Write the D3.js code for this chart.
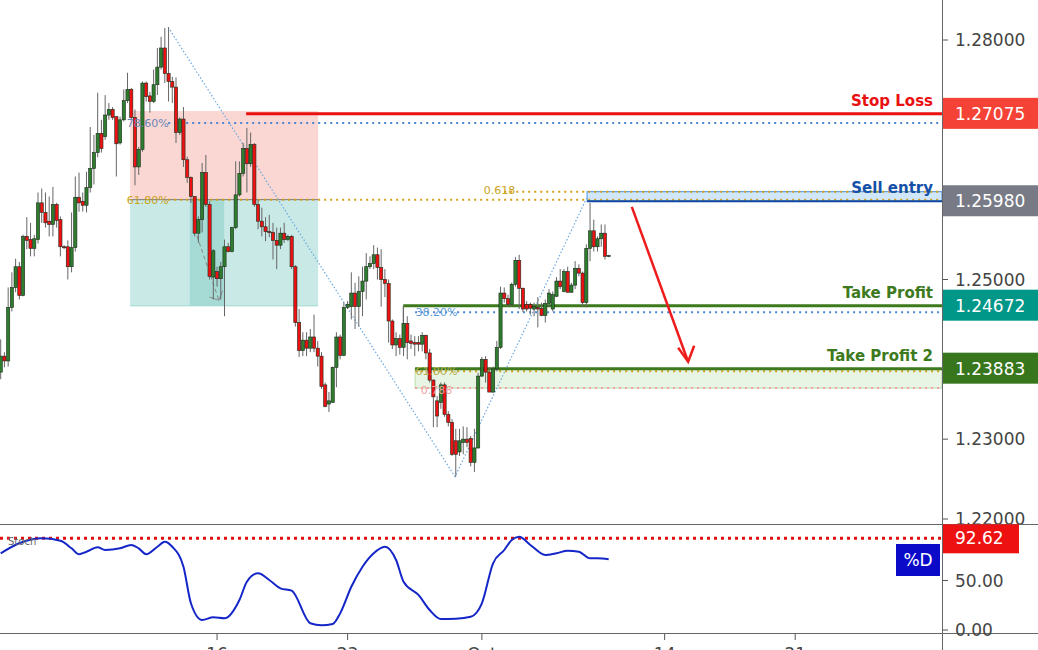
<!DOCTYPE html>
<html>
<head>
<meta charset="utf-8">
<script src="https://cdn.jsdelivr.net/npm/d3@7"></script>
<style>
  body { margin: 0; background: #fff; }
  svg { display: block; font-family: "DejaVu Sans", sans-serif; }
</style>
</head>
<body>
<div id="main"></div>
<script>
// candles: [open, high, low, close]
const candles = [
  [1.2384,1.2425,1.2375,1.2404],[1.2404,1.2409,1.2390,1.2398],[1.2398,1.2490,1.2391,1.2465],[1.2465,1.2509,1.2460,1.2490],
  [1.2490,1.2526,1.2484,1.2516],[1.2516,1.2522,1.2475,1.2480],[1.2480,1.2556,1.2479,1.2554],[1.2554,1.2578,1.2538,1.2549],
  [1.2550,1.2571,1.2529,1.2539],[1.2539,1.2556,1.2529,1.2551],[1.2550,1.2609,1.2545,1.2596],[1.2596,1.2614,1.2571,1.2584],
  [1.2584,1.2609,1.2565,1.2571],[1.2573,1.2604,1.2554,1.2569],[1.2569,1.2616,1.2554,1.2594],[1.2594,1.2596,1.2565,1.2574],
  [1.2575,1.2579,1.2529,1.2541],[1.2541,1.2543,1.2538,1.2540],[1.2541,1.2549,1.2500,1.2516],[1.2516,1.2584,1.2509,1.2540],
  [1.2540,1.2629,1.2535,1.2603],[1.2603,1.2634,1.2585,1.2596],[1.2598,1.2609,1.2585,1.2593],[1.2593,1.2635,1.2584,1.2615],
  [1.2615,1.2691,1.2609,1.2639],[1.2639,1.2681,1.2619,1.2659],[1.2659,1.2734,1.2653,1.2683],[1.2683,1.2700,1.2659,1.2664],
  [1.2679,1.2731,1.2675,1.2706],[1.2706,1.2721,1.2700,1.2713],[1.2713,1.2716,1.2700,1.2703],[1.2704,1.2704,1.2629,1.2670],
  [1.2671,1.2704,1.2669,1.2700],[1.2700,1.2738,1.2698,1.2724],[1.2724,1.2759,1.2721,1.2738],[1.2738,1.2740,1.2700,1.2703],
  [1.2703,1.2713,1.2618,1.2641],[1.2641,1.2666,1.2631,1.2663],[1.2663,1.2748,1.2660,1.2746],[1.2746,1.2748,1.2723,1.2729],
  [1.2730,1.2735,1.2709,1.2723],[1.2723,1.2763,1.2721,1.2744],[1.2744,1.2790,1.2731,1.2766],[1.2766,1.2804,1.2763,1.2790],
  [1.2790,1.2815,1.2746,1.2758],[1.2758,1.2816,1.2723,1.2748],[1.2748,1.2754,1.2721,1.2741],[1.2741,1.2753,1.2671,1.2684],
  [1.2684,1.2703,1.2681,1.2701],[1.2701,1.2716,1.2641,1.2650],[1.2650,1.2654,1.2621,1.2628],[1.2628,1.2629,1.2596,1.2604],
  [1.2604,1.2604,1.2554,1.2558],[1.2558,1.2579,1.2546,1.2575],[1.2575,1.2646,1.2559,1.2634],[1.2634,1.2656,1.2591,1.2594],
  [1.2594,1.2598,1.2500,1.2504],[1.2503,1.2538,1.2475,1.2536],[1.2510,1.2516,1.2491,1.2501],[1.2501,1.2522,1.2475,1.2516],
  [1.2516,1.2550,1.2454,1.2541],[1.2541,1.2546,1.2534,1.2535],[1.2535,1.2566,1.2534,1.2565],[1.2565,1.2648,1.2563,1.2606],
  [1.2606,1.2648,1.2604,1.2633],[1.2633,1.2671,1.2629,1.2664],[1.2664,1.2690,1.2609,1.2645],[1.2645,1.2684,1.2641,1.2669],
  [1.2669,1.2671,1.2591,1.2594],[1.2594,1.2600,1.2563,1.2573],[1.2573,1.2590,1.2554,1.2566],[1.2566,1.2578,1.2548,1.2560],
  [1.2560,1.2581,1.2553,1.2559],[1.2559,1.2571,1.2525,1.2549],[1.2549,1.2565,1.2513,1.2543],[1.2543,1.2565,1.2538,1.2558],
  [1.2558,1.2571,1.2546,1.2550],[1.2550,1.2556,1.2548,1.2554],[1.2554,1.2556,1.2513,1.2516],[1.2516,1.2518,1.2441,1.2446],
  [1.2446,1.2463,1.2403,1.2411],[1.2411,1.2434,1.2404,1.2424],[1.2424,1.2434,1.2404,1.2414],[1.2414,1.2438,1.2409,1.2428],
  [1.2428,1.2456,1.2409,1.2414],[1.2414,1.2423,1.2391,1.2404],[1.2404,1.2409,1.2363,1.2366],[1.2368,1.2371,1.2340,1.2341],
  [1.2344,1.2359,1.2334,1.2348],[1.2346,1.2391,1.2346,1.2390],[1.2390,1.2434,1.2365,1.2428],[1.2428,1.2431,1.2400,1.2405],
  [1.2405,1.2471,1.2404,1.2465],[1.2465,1.2473,1.2463,1.2469],[1.2466,1.2509,1.2450,1.2483],[1.2483,1.2496,1.2438,1.2466],
  [1.2466,1.2504,1.2441,1.2485],[1.2485,1.2516,1.2454,1.2498],[1.2498,1.2533,1.2475,1.2516],[1.2516,1.2529,1.2513,1.2520],
  [1.2520,1.2543,1.2513,1.2531],[1.2531,1.2540,1.2500,1.2515],[1.2515,1.2538,1.2466,1.2500],[1.2500,1.2513,1.2478,1.2495],
  [1.2495,1.2500,1.2421,1.2448],[1.2448,1.2450,1.2413,1.2418],[1.2418,1.2434,1.2404,1.2426],[1.2426,1.2431,1.2406,1.2415],
  [1.2415,1.2466,1.2404,1.2445],[1.2445,1.2454,1.2400,1.2421],[1.2423,1.2431,1.2413,1.2420],[1.2421,1.2429,1.2404,1.2419],
  [1.2421,1.2429,1.2410,1.2419],[1.2419,1.2434,1.2410,1.2430],[1.2430,1.2431,1.2400,1.2408],[1.2408,1.2413,1.2371,1.2374],
  [1.2374,1.2375,1.2315,1.2353],[1.2348,1.2354,1.2315,1.2329],[1.2346,1.2371,1.2338,1.2368],[1.2368,1.2371,1.2328,1.2331],
  [1.2331,1.2335,1.2316,1.2321],[1.2321,1.2325,1.2279,1.2281],[1.2298,1.2313,1.2253,1.2281],[1.2284,1.2313,1.2279,1.2298],
  [1.2296,1.2316,1.2281,1.2300],[1.2300,1.2315,1.2290,1.2296],[1.2301,1.2304,1.2266,1.2271],[1.2271,1.2313,1.2259,1.2289],
  [1.2289,1.2383,1.2288,1.2379],[1.2379,1.2403,1.2378,1.2400],[1.2400,1.2404,1.2371,1.2384],[1.2384,1.2390,1.2359,1.2359],
  [1.2359,1.2391,1.2358,1.2388],[1.2388,1.2423,1.2385,1.2415],[1.2415,1.2491,1.2413,1.2483],[1.2483,1.2490,1.2471,1.2476],
  [1.2476,1.2481,1.2466,1.2469],[1.2469,1.2496,1.2466,1.2494],[1.2494,1.2528,1.2491,1.2524],[1.2524,1.2531,1.2463,1.2489],
  [1.2489,1.2490,1.2459,1.2463],[1.2469,1.2473,1.2460,1.2463],[1.2469,1.2471,1.2456,1.2464],[1.2463,1.2471,1.2454,1.2466],
  [1.2465,1.2478,1.2440,1.2463],[1.2464,1.2471,1.2454,1.2455],[1.2455,1.2475,1.2446,1.2470],[1.2470,1.2488,1.2466,1.2483],
  [1.2463,1.2485,1.2460,1.2481],[1.2479,1.2503,1.2478,1.2498],[1.2498,1.2513,1.2488,1.2491],[1.2485,1.2513,1.2484,1.2510],
  [1.2510,1.2516,1.2484,1.2484],[1.2484,1.2496,1.2484,1.2493],[1.2493,1.2523,1.2488,1.2514],[1.2514,1.2519,1.2504,1.2508],
  [1.2508,1.2510,1.2466,1.2471],[1.2471,1.2544,1.2465,1.2539],[1.2539,1.2596,1.2523,1.2561],[1.2561,1.2575,1.2535,1.2541],
  [1.2541,1.2554,1.2535,1.2551],[1.2551,1.2569,1.2541,1.2558],[1.2558,1.2569,1.2525,1.2529],[1.2529,1.2531,1.2528,1.2530]
];

const stochIdx = [0,5,11,16,19,21,23,26,28,32,35,37,39,42,44,46,49,51,54,57,60,64,66,69,72,75,78,83,86,89,91,94,97,100,103,106,108,112,115,118,122,126,129,132,135,137,139,142,146,149,152,155,158,160,163];
const stochVal = [77.5,87.6,92.6,90.2,82.5,76.5,79.1,83.5,80.8,82.5,85.9,82.5,76.5,84.1,89.2,84.1,63.9,27,10.1,12.8,11.8,30.3,48.8,57.3,50.5,42.1,39.7,6.8,4.7,6.1,16.8,43.7,63.9,77.5,84.1,70.7,48.8,35.4,20.2,11.1,11.4,13.4,27,67.4,80.8,90.9,94.2,85.9,75.8,77.5,80.1,79.1,72.4,72.4,71.4];

const priceTicks = [1.22, 1.23, 1.24, 1.25, 1.26, 1.27, 1.28];
const stochTicks = [0, 50];
const stochLevel = 92.62;
const dateTickIdx = [58, 93, 129, 178, 213];
const dateTickLabels = ["16", "23", "Oct", "14", "21"];

const stopLoss = 1.27075, sellEntry = 1.25980, tp1 = 1.24672, tp2 = 1.23883;
// fib / zone levels
const fib786 = 1.2696, fib618 = 1.2600, zoneBottom = 1.2467;
const fib618b = 1.2610, fib382 = 1.2463, fib618c = 1.2385, fib786c = 1.2364;
const swingIdx = [44.9, 121.8, 157.2];
const swingPrice = [1.2816, 1.2253, 1.2603];

const WIDTH = 1038, HEIGHT = 650, AXIS_X = 942;
const svg = d3.select("#main").append("svg").attr("width", WIDTH).attr("height", HEIGHT);

const x = d3.scaleLinear().domain([0, 163]).range([0.7, 608.7]);
const y = d3.scaleLinear().domain([1.22, 1.28]).range([519, 40]);
const ys = d3.scaleLinear().domain([0, 100]).range([630, 531]);

svg.append("clipPath").attr("id", "pc").append("rect").attr("width", AXIS_X).attr("height", 524);
svg.append("clipPath").attr("id", "ac").append("rect").attr("x", AXIS_X).attr("width", 100).attr("height", 524);
const g = svg.append("g").attr("clip-path", "url(#pc)");

// risk / reward boxes
g.append("rect").attr("x", x(34.7)).attr("width", x(85.1) - x(34.7))
  .attr("y", y(1.2711)).attr("height", y(fib618) - y(1.2711)).attr("fill", "#f8c9c4").attr("opacity", 0.75);
g.append("rect").attr("x", x(34.7)).attr("width", x(85.1) - x(34.7))
  .attr("y", y(fib618)).attr("height", y(zoneBottom) - y(fib618)).attr("fill", "#b2e0dc").attr("opacity", 0.7);
g.append("rect").attr("x", x(50.7)).attr("width", x(59.9) - x(50.7))
  .attr("y", y(fib618)).attr("height", y(zoneBottom) - y(fib618)).attr("fill", "#8fd0c8").attr("opacity", 0.6);
g.append("line").attr("x1", x(34.7)).attr("x2", x(85.1)).attr("y1", y(zoneBottom)).attr("y2", y(zoneBottom))
  .attr("stroke", "#9fd8d0");
g.append("line").attr("x1", x(34.7)).attr("x2", x(85.1)).attr("y1", y(fib618)).attr("y2", y(fib618))
  .attr("stroke", "#777");

// tp2 zone
g.append("rect").attr("x", x(111.1)).attr("width", AXIS_X - x(111.1))
  .attr("y", y(tp2)).attr("height", y(fib786c) - y(tp2)).attr("fill", "#e9f5e4").attr("stroke", "#b8dcae");

// sell entry box
g.append("rect").attr("x", x(157.2)).attr("width", AXIS_X - x(157.2))
  .attr("y", y(fib618b)).attr("height", y(sellEntry) - y(fib618b)).attr("fill", "#cfe6fb").attr("stroke", "#4a90e2");

// dotted fib lines
const dotted = (i0, p, color) => g.append("line").attr("x1", x(i0)).attr("x2", AXIS_X)
  .attr("y1", y(p)).attr("y2", y(p)).attr("stroke", color).attr("stroke-width", 2).attr("stroke-dasharray", "2,4");
dotted(44.9, fib786, "#4a86d4");
dotted(44.9, fib618, "#d4a017");
dotted(135, fib618b, "#d4a017");
dotted(111.1, fib382 - 0.0004, "#4a86d4");
dotted(111.1, fib618c, "#d4a017");
dotted(111.1, fib786c, "#f2a0a0");

// swing diagonals
g.append("path").attr("d", d3.line()(swingIdx.map((v, i) => [x(v), y(swingPrice[i])])))
  .attr("fill", "none").attr("stroke", "#6aa8e0").attr("stroke-width", 1.2).attr("stroke-dasharray", "1.5,2");

// small dashed arrow in the zone
g.append("path").attr("d", d3.line()([[x(52), y(1.2563)], [x(58.5), y(1.2474)]]))
  .attr("stroke", "#888").attr("stroke-dasharray", "4,3").attr("fill", "none");
g.append("path").attr("d", d3.line()([[x(56), y(1.2478)], [x(58.5), y(1.2474)], [x(59.5), y(1.2486)]]))
  .attr("stroke", "#888").attr("fill", "none");

// level lines
g.append("line").attr("x1", x(65.8)).attr("x2", AXIS_X).attr("y1", y(stopLoss)).attr("y2", y(stopLoss))
  .attr("stroke", "#e81010").attr("stroke-width", 3);
g.append("line").attr("x1", x(157.2)).attr("x2", AXIS_X).attr("y1", y(sellEntry)).attr("y2", y(sellEntry))
  .attr("stroke", "#0d47a1").attr("stroke-width", 2);
g.append("line").attr("x1", x(107.9)).attr("x2", AXIS_X).attr("y1", y(tp1)).attr("y2", y(tp1))
  .attr("stroke", "#3d7a1e").attr("stroke-width", 3);
g.append("line").attr("x1", x(111.1)).attr("x2", AXIS_X).attr("y1", y(tp2)).attr("y2", y(tp2))
  .attr("stroke", "#3d7a1e").attr("stroke-width", 3);
g.append("line").attr("x1", x(107.9)).attr("x2", x(107.9)).attr("y1", y(tp1)).attr("y2", y(1.2433))
  .attr("stroke", "#888");

// candles
const c = g.append("g").selectAll("g").data(candles).join("g");
c.append("line").attr("x1", (d, i) => x(i)).attr("x2", (d, i) => x(i))
  .attr("y1", d => y(d[1])).attr("y2", d => y(d[2])).attr("stroke", "#666").attr("stroke-width", 1);
c.append("rect").attr("x", (d, i) => x(i) - 1.6).attr("width", 3.2)
  .attr("y", d => y(Math.max(d[0], d[3])))
  .attr("height", d => Math.max(1, Math.abs(y(d[0]) - y(d[3]))))
  .attr("fill", d => d[3] >= d[0] ? "#2e7d2e" : "#ee1111")
  .attr("stroke", "#1c2a1c").attr("stroke-width", 0.6);

// fib labels
const lab = (i, p, t, color) => g.append("text").attr("x", x(i)).attr("y", y(p) + 4)
  .attr("fill", color).attr("font-size", 11).text(t);
lab(33.8, fib786, "78.60%", "#6b86b8");
lab(33.8, fib618, "61.80%", "#c9a21a");
lab(129.5, fib618b + 0.0002, "0.618", "#c9a21a");
lab(111.2, fib382 - 0.0004, "38.20%", "#5b9bd5");
lab(111.2, fib618c, "61.80%", "#b5b050");
lab(112.6, fib786c - 0.0002, "0.786", "#f0a0a0");

// trade arrow
const arrowFrom = [169.2, 1.2591], arrowTo = [184.3, 1.2397];
g.append("line").attr("x1", x(arrowFrom[0])).attr("y1", y(arrowFrom[1]))
  .attr("x2", x(arrowTo[0])).attr("y2", y(arrowTo[1])).attr("stroke", "#ee1c1c").attr("stroke-width", 2.5);
g.append("path").attr("d", d3.line()([[x(arrowTo[0]) - 10, y(arrowTo[1]) - 14], [x(arrowTo[0]), y(arrowTo[1])], [x(arrowTo[0]) + 6, y(arrowTo[1]) - 16]]))
  .attr("fill", "none").attr("stroke", "#ee1c1c").attr("stroke-width", 2.5);

// level titles
const title = (p, t, color) => svg.append("text").attr("x", 933).attr("y", y(p) - 8)
  .attr("text-anchor", "end").attr("font-weight", "bold").attr("font-size", 15).attr("fill", color).text(t);
title(stopLoss, "Stop Loss", "#e81010");
title(sellEntry, "Sell entry", "#1450a8");
title(tp1, "Take Profit", "#3d7a1e");
title(tp2, "Take Profit 2", "#3d7a1e");

// price axis (skip ticks hidden behind the level badges)
const levels = [stopLoss, sellEntry, tp1, tp2];
const shownTicks = priceTicks.filter(t => levels.every(l => Math.abs(y(t) - y(l)) > 22));
const pa = svg.append("g").attr("clip-path", "url(#ac)");
pa.selectAll("line").data(priceTicks).join("line").attr("x1", AXIS_X).attr("x2", AXIS_X + 6)
  .attr("y1", d => y(d)).attr("y2", d => y(d)).attr("stroke", "#555");
pa.selectAll("text").data(shownTicks).join("text").attr("x", AXIS_X + 13).attr("y", d => y(d) + 6)
  .attr("font-size", 17).attr("fill", "#444").text(d => d.toFixed(5));

const badges = [[stopLoss, "#f44336"], [sellEntry, "#787b86"], [tp1, "#009688"], [tp2, "#38761d"]];
badges.forEach(([p, col]) => {
  svg.append("rect").attr("x", AXIS_X + 1).attr("y", y(p) - 16).attr("width", WIDTH - AXIS_X).attr("height", 31).attr("fill", col);
  svg.append("text").attr("x", AXIS_X + 13).attr("y", y(p) + 6).attr("font-size", 17).attr("fill", "#fff").text(p.toFixed(5));
});

// separators
svg.append("line").attr("x1", 0).attr("x2", WIDTH).attr("y1", 524.5).attr("y2", 524.5).attr("stroke", "#666");
svg.append("line").attr("x1", 0).attr("x2", WIDTH).attr("y1", 633.5).attr("y2", 633.5).attr("stroke", "#666");
svg.append("line").attr("x1", AXIS_X + 0.5).attr("x2", AXIS_X + 0.5).attr("y1", 0).attr("y2", HEIGHT).attr("stroke", "#666");

// stoch panel
svg.append("line").attr("x1", 0).attr("x2", AXIS_X).attr("y1", ys(stochLevel)).attr("y2", ys(stochLevel))
  .attr("stroke", "#e01010").attr("stroke-width", 3).attr("stroke-dasharray", "3,4");
svg.append("path").attr("d", d3.line().curve(d3.curveMonotoneX)(stochIdx.map((v, i) => [x(v), ys(stochVal[i])])))
  .attr("fill", "none").attr("stroke", "#1526c8").attr("stroke-width", 2);
svg.append("text").attr("x", 8).attr("y", 545).attr("font-size", 10).attr("fill", "#666").text("Stoch");

svg.selectAll(".st").data(stochTicks).join("text").attr("x", AXIS_X + 13).attr("y", d => ys(d) + 6)
  .attr("font-size", 17).attr("fill", "#444").text(d => d.toFixed(2));
svg.selectAll(".stt").data(stochTicks).join("line").attr("x1", AXIS_X).attr("x2", AXIS_X + 6)
  .attr("y1", d => ys(d)).attr("y2", d => ys(d)).attr("stroke", "#555");
svg.append("rect").attr("x", AXIS_X + 1).attr("y", ys(stochLevel) - 14).attr("width", 76).attr("height", 29).attr("fill", "#ee1111");
svg.append("text").attr("x", AXIS_X + 13).attr("y", ys(stochLevel) + 6).attr("font-size", 17).attr("fill", "#fff").text(stochLevel.toFixed(2));
svg.append("rect").attr("x", 896).attr("y", 544).attr("width", 44).attr("height", 32).attr("fill", "#0a0ac8");
svg.append("text").attr("x", 918).attr("y", 566).attr("text-anchor", "middle").attr("font-size", 17).attr("fill", "#fff").text("%D");

// time axis (labels sit mostly below the visible frame, as in the source)
svg.selectAll(".dt").data(dateTickIdx).join("line").attr("x1", d => x(d)).attr("x2", d => x(d))
  .attr("y1", 634).attr("y2", 640).attr("stroke", "#555");
svg.selectAll(".dl").data(dateTickIdx).join("text").attr("x", d => x(d)).attr("y", 660)
  .attr("text-anchor", "middle").attr("font-size", 17).attr("fill", "#444").text((d, i) => dateTickLabels[i]);
</script>
</body>
</html>
